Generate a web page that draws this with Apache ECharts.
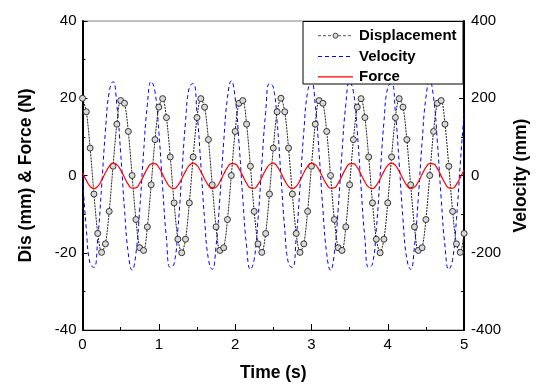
<!DOCTYPE html>
<html><head><meta charset="utf-8">
<script src="https://cdn.jsdelivr.net/npm/echarts@6/dist/echarts.min.js"></script>
<style>html,body{margin:0;padding:0;background:#fff}#c{width:538px;height:387px}</style>
</head><body><div id="c"></div>
<script>
const time = [0,0.05,0.1,0.15,0.2,0.25,0.3,0.35,0.4,0.45,0.5,0.55,0.6,0.65,0.7,0.75,0.8,0.85,0.9,0.95,
1,1.05,1.1,1.15,1.2,1.25,1.3,1.35,1.4,1.45,1.5,1.55,1.6,1.65,1.7,1.75,1.8,1.85,1.9,1.95,
2,2.05,2.1,2.15,2.2,2.25,2.3,2.35,2.4,2.45,2.5,2.55,2.6,2.65,2.7,2.75,2.8,2.85,2.9,2.95,
3,3.05,3.1,3.15,3.2,3.25,3.3,3.35,3.4,3.45,3.5,3.55,3.6,3.65,3.7,3.75,3.8,3.85,3.9,3.95,
4,4.05,4.1,4.15,4.2,4.25,4.3,4.35,4.4,4.45,4.5,4.55,4.6,4.65,4.7,4.75,4.8,4.85,4.9,4.95,5];

const displacement = [20.0,16.5,7.1,-4.8,-15.0,-19.9,-17.7,-9.3,2.4,13.3,19.4,18.7,11.4,0.0,-11.4,-18.7,-19.4,-13.3,-2.4,9.3,
17.7,19.9,15.0,4.8,-7.1,-16.5,-20.0,-16.5,-7.1,4.8,15.0,19.9,17.7,9.3,-2.4,-13.3,-19.4,-18.7,-11.4,0.0,
11.4,18.7,19.4,13.3,2.4,-9.3,-17.7,-19.9,-15.0,-4.8,7.1,16.5,
20.0,16.5,7.1,-4.8,-15.0,-19.9,-17.7,-9.3,2.4,13.3,19.4,18.7,11.4,0.0,-11.4,-18.7,-19.4,-13.3,-2.4,9.3,
17.7,19.9,15.0,4.8,-7.1,-16.5,-20.0,-16.5,-7.1,4.8,15.0,19.9,17.7,9.3,-2.4,-13.3,-19.4,-18.7,-11.4,0.0,
11.4,18.7,19.4,13.3,2.4,-9.3,-17.7,-19.9,-15.0];

const velocity = [0,-139,-229,-238,-163,-30,114,217,243,183,59,-87,-202,-245,-202,-87,59,183,243,217,
114,-30,-163,-238,-229,-139,0,139,229,238,163,30,-114,-217,-243,-183,-59,87,202,245,
202,87,-59,-183,-243,-217,-114,30,163,238,229,139,
0,-139,-229,-238,-163,-30,114,217,243,183,59,-87,-202,-245,-202,-87,59,183,243,217,
114,-30,-163,-238,-229,-139,0,139,229,238,163,30,-114,-217,-243,-183,-59,87,202,245,
202,87,-59,-183,-243,-217,-114,30,163];

const force = [0.69,-1.27,-2.82,-3.40,-2.82,-1.27,0.69,2.37,3.18,2.82,1.43,-0.50,-2.29,-3.30,-3.19,-1.97,-0.10,1.77,2.99,3.10,
2.09,0.30,-1.63,-3.02,-3.38,-2.57,-0.89,1.07,2.62,3.20,2.62,1.07,-0.89,-2.57,-3.38,-3.02,-1.63,0.30,2.09,3.10,
2.99,1.77,-0.10,-1.97,-3.19,-3.30,-2.29,-0.50,1.43,2.82,3.18,2.37,
0.69,-1.27,-2.82,-3.40,-2.82,-1.27,0.69,2.37,3.18,2.82,1.43,-0.50,-2.29,-3.30,-3.19,-1.97,-0.10,1.77,2.99,3.10,
2.09,0.30,-1.63,-3.02,-3.38,-2.57,-0.89,1.07,2.62,3.20,2.62,1.07,-0.89,-2.57,-3.38,-3.02,-1.63,0.30,2.09,3.10,
2.99,1.77,-0.10,-1.97,-3.19,-3.30,-2.29,-0.50,1.43];

const seriesNames = ['Displacement','Velocity','Force'];

const font = 'Arial, "Liberation Sans", sans-serif';
const pairs = ys => time.map((t, i) => [t, ys[i]]);
const chart = echarts.init(document.getElementById('c'), null, {renderer: 'canvas'});

const nameStyle = {fontFamily: font, fontSize: 17.5, fontWeight: 'bold', color: '#000'};
const labelStyle = {fontFamily: font, fontSize: 15, color: '#000'};

// legend key (box, samples and real text labels)
const legendX = 303, legendY = 21.5, legendW = 160, legendH = 62.5;
const rowY = [35.7, 56.5, 76.8];
const sampleStyles = [
  {stroke: '#555', lineWidth: 1, lineDash: [3, 2]},
  {stroke: '#0000ff', lineWidth: 1, lineDash: [4, 3]},
  {stroke: '#ff0000', lineWidth: 1.2}
];
const legendEls = [{
  type: 'rect', shape: {x: legendX, y: legendY, width: legendW, height: legendH},
  style: {fill: '#fff', stroke: '#000', lineWidth: 1}
}];
seriesNames.forEach((n, i) => {
  legendEls.push({type: 'line', shape: {x1: 318, y1: rowY[i], x2: 353, y2: rowY[i]}, style: sampleStyles[i]});
  legendEls.push({type: 'text', x: 359, y: rowY[i],
    style: {text: n, fill: '#000', font: 'bold 15px ' + font, textVerticalAlign: 'middle', verticalAlign: 'middle'}});
});
legendEls.push({type: 'circle', shape: {cx: 335.5, cy: rowY[0], r: 2.5}, style: {fill: '#d8d8d8', stroke: '#333', lineWidth: 0.9}});

chart.setOption({
  animation: false,
  backgroundColor: '#fff',
  grid: {left: 82.5, right: 73.5, top: 21, bottom: 54.5, show: true, borderColor: '#808080', borderWidth: 1, backgroundColor: 'transparent'},
  graphic: {elements: legendEls.map(e => Object.assign({z: 100, silent: true}, e))},
  xAxis: {
    type: 'value', min: 0, max: 5, interval: 1,
    name: 'Time (s)', nameLocation: 'middle', nameGap: 34, nameTextStyle: nameStyle,
    axisLine: {show: true, onZero: false, lineStyle: {color: '#000', width: 1}},
    axisTick: {show: true, inside: true, length: 6, lineStyle: {color: '#000'}},
    minorTick: {show: true, splitNumber: 2, length: 3, lineStyle: {color: '#000'}},
    axisLabel: Object.assign({margin: 7}, labelStyle),
    splitLine: {show: false}
  },
  yAxis: [{
    type: 'value', position: 'left', min: -40, max: 40, interval: 20,
    name: 'Dis (mm) & Force (N)', nameLocation: 'middle', nameRotate: 90, nameGap: 47, nameTextStyle: nameStyle,
    axisLine: {show: true, onZero: false, lineStyle: {color: '#000', width: 2}},
    axisTick: {show: true, inside: true, length: 5, lineStyle: {color: '#000'}},
    minorTick: {show: true, splitNumber: 2, length: 3, lineStyle: {color: '#000'}},
    axisLabel: Object.assign({margin: 6}, labelStyle),
    splitLine: {show: false}
  }, {
    type: 'value', position: 'right', min: -400, max: 400, interval: 200,
    name: 'Velocity (mm)', nameLocation: 'middle', nameRotate: 90, nameGap: 38, nameTextStyle: nameStyle,
    axisLine: {show: true, onZero: false, lineStyle: {color: '#000', width: 2}},
    axisTick: {show: true, inside: true, length: 5, lineStyle: {color: '#000'}},
    minorTick: {show: true, splitNumber: 2, length: 3, lineStyle: {color: '#000'}},
    axisLabel: Object.assign({margin: 7}, labelStyle),
    splitLine: {show: false}
  }],
  series: [{
    name: seriesNames[1], type: 'line', yAxisIndex: 1, data: pairs(velocity),
    showSymbol: false, symbol: 'none', smooth: true, z: 2,
    lineStyle: {color: '#0000ff', width: 1, type: [4, 3]}, itemStyle: {color: '#0000ff'}
  }, {
    name: seriesNames[0], type: 'line', yAxisIndex: 0, data: pairs(displacement),
    symbol: 'circle', symbolSize: 6, showSymbol: true, smooth: 0.3, z: 3,
    lineStyle: {color: '#222', width: 1, type: [2, 1]},
    itemStyle: {color: '#d8d8d8', borderColor: '#222', borderWidth: 0.9}
  }, {
    name: seriesNames[2], type: 'line', yAxisIndex: 0, data: pairs(force),
    showSymbol: false, symbol: 'none', smooth: true, z: 4,
    lineStyle: {color: '#ff0000', width: 1.2}, itemStyle: {color: '#ff0000'}
  }]
});
</script>
</body></html>
